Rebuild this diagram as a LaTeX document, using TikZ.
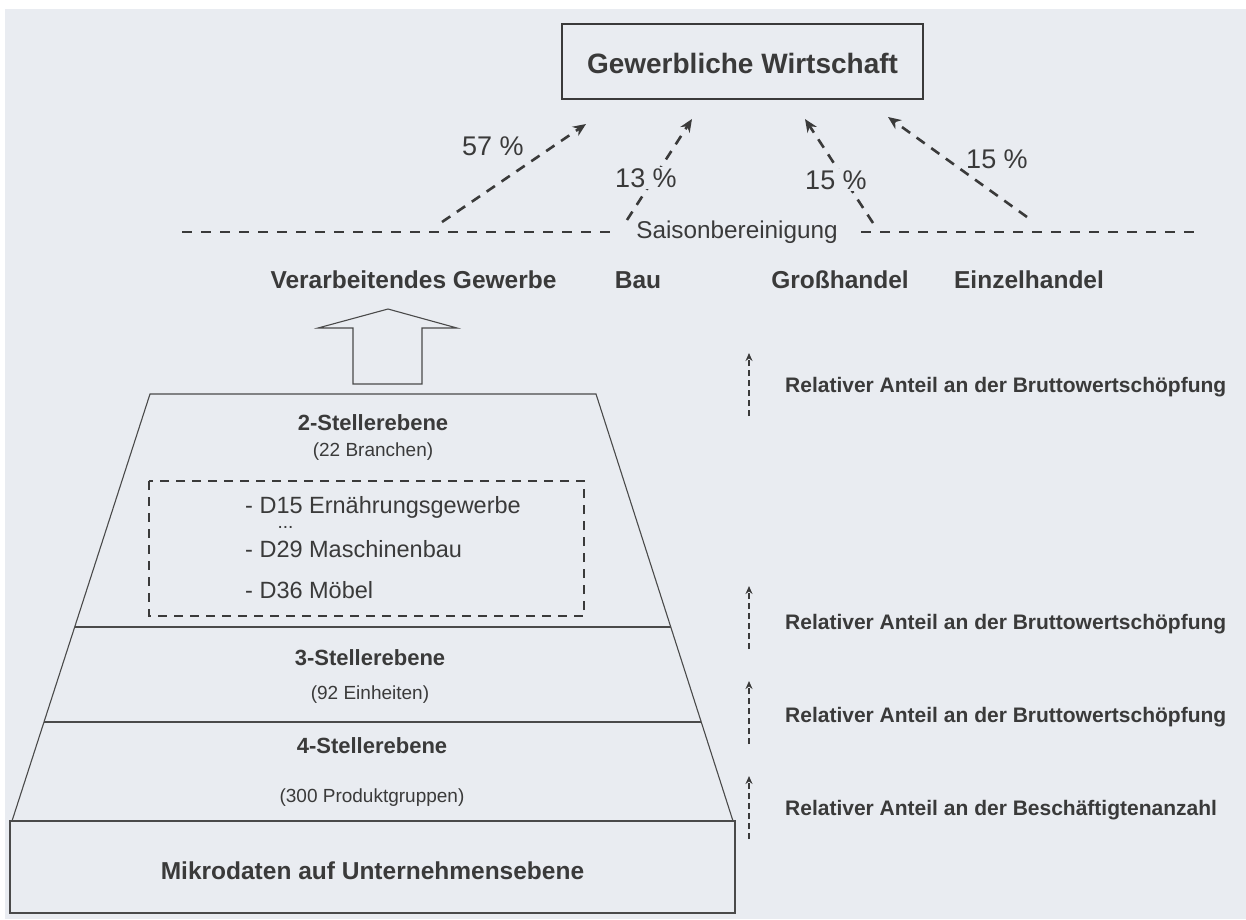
\documentclass[tikz,border=0pt]{standalone}
\usepackage{fontspec}
\setmainfont{Liberation Sans}
\usetikzlibrary{arrows.meta}
\definecolor{bg}{HTML}{E9ECF1}
\definecolor{txt}{HTML}{3A3A3A}
\definecolor{ln}{HTML}{4A4A4A}
\tikzset{
  t/.style={inner sep=0pt, text=txt, anchor=base},
  tw/.style={inner sep=0pt, text=txt, anchor=base west},
  titlefont/.style={font=\bfseries\fontsize{28}{32}\selectfont},
  headfont/.style={font=\bfseries\fontsize{24.5}{28}\selectfont},
  lvlfont/.style={font=\bfseries\fontsize{22}{26}\selectfont},
  subfont/.style={font=\fontsize{19}{22}\selectfont},
  itemfont/.style={font=\fontsize{23.5}{27}\selectfont},
  pctfont/.style={font=\fontsize{27}{30}\selectfont},
  saisfont/.style={font=\fontsize{24.3}{28}\selectfont},
  relfont/.style={font=\bfseries\fontsize{21}{24}\selectfont},
  pctarrow/.style={draw=txt, line width=2.6pt, dash pattern=on 10pt off 8pt,
    -{Stealth[length=13pt,width=11pt]}},
  sepline/.style={draw=txt, line width=2.6pt, dash pattern=on 10pt off 9pt},
  relarrow/.style={draw=txt, line width=1.8pt, dash pattern=on 6pt off 4pt,
    -{Stealth[length=8pt,width=7pt]}},
  thinline/.style={draw=ln, line width=1.1pt},
  dashbox/.style={draw=txt, line width=1.8pt, dash pattern=on 9pt off 7pt},
}
\begin{document}
\begin{tikzpicture}[x=1pt,y=-1pt]
\useasboundingbox (0,0) rectangle (1246,919);
\fill[white] (0,0) rectangle (1246,919);
\fill[bg] (5,9) rectangle (1246,919);

% title box
\node[draw=txt, line width=2pt, minimum width=361pt, minimum height=75pt, inner sep=0pt] (titlebox) at (742.5,61.5) {};
\node[t, titlefont] (title) at (742.5,73) {Gewerbliche Wirtschaft};

% separator line (Saisonbereinigung)
\coordinate (sepL1) at (182,232);
\coordinate (sepL2) at (615,232);
\coordinate (sepR1) at (861,232);
\coordinate (sepR2) at (1196,232);
\draw[sepline] (sepL1) -- (sepL2);
\draw[sepline] (sepR1) -- (sepR2);
\node[t, saisfont] (sais) at (737,238) {Saisonbereinigung};

% percentage arrows
\coordinate (a1s) at (442,222); \coordinate (a1e) at (586,124);
\coordinate (a2s) at (627,220); \coordinate (a2e) at (692,119);
\coordinate (a3s) at (873,223); \coordinate (a3e) at (805,119);
\coordinate (a4s) at (1027,217); \coordinate (a4e) at (888,117);
\draw[pctarrow] (a1s) -- (a1e);
\draw[pctarrow] (a2s) -- (a2e);
\draw[pctarrow] (a3s) -- (a3e);
\draw[pctarrow] (a4s) -- (a4e);
\node[t, pctfont] (p1) at (493,155) {57 \%};
\node[t, pctfont, fill=bg, inner sep=1.5pt] (p2) at (646,187) {13 \%};
\node[t, pctfont, fill=bg, inner sep=1.5pt] (p3) at (836,189) {15 \%};
\node[t, pctfont] (p4) at (997,168) {15 \%};

% sector headings
\node[t, headfont] (verarb) at (413.5,288) {Verarbeitendes Gewerbe};
\node[t, headfont] (bau) at (638,288) {Bau};
\node[t, headfont] (gross) at (840,288) {Großhandel};
\node[t, headfont] (einzel) at (1029,288) {Einzelhandel};

% hollow arrow
\draw[thinline] (353,384) -- (353,328) -- (318,328) -- (388,309) -- (457,328) -- (422,328) -- (422,384) -- cycle;

% pyramid
\coordinate (tl) at (150,394);
\coordinate (tr) at (596,394);
\coordinate (bl) at (12,821);
\coordinate (br) at (733,821);
\coordinate (m1l) at (74.7,627); \coordinate (m1r) at (670.8,627);
\coordinate (m2l) at (44,722); \coordinate (m2r) at (701.2,722);
\draw[thinline] (bl) -- (tl) -- (tr) -- (br);
\draw[thinline] (m1l) -- (m1r);
\draw[thinline] (m2l) -- (m2r);

\node[t, lvlfont] (l2) at (373,430) {2-Stellerebene};
\node[t, subfont] (l2s) at (373,456) {(22 Branchen)};
\draw[dashbox] (149,481) rectangle (584,616);
\node[tw, itemfont] (d15) at (245,513) {- D15 Ernährungsgewerbe};
\node[t, font=\fontsize{19}{22}\selectfont] (dots) at (285.5,528) {...};
\node[tw, itemfont] (d29) at (245,557) {- D29 Maschinenbau};
\node[tw, itemfont] (d36) at (245,598) {- D36 Möbel};

\node[t, lvlfont] (l3) at (370,665) {3-Stellerebene};
\node[t, subfont] (l3s) at (370,699) {(92 Einheiten)};
\node[t, lvlfont] (l4) at (372,753) {4-Stellerebene};
\node[t, subfont] (l4s) at (372,802) {(300 Produktgruppen)};

% micro data box
\node[thinline, draw, minimum width=725pt, minimum height=92pt, inner sep=0pt] (microbox) at (372.5,867) {};
\node[t, headfont] (micro) at (372.5,879) {Mikrodaten auf Unternehmensebene};

% right-side arrows
\coordinate (r1s) at (749,416); \coordinate (r1e) at (749,353);
\coordinate (r2s) at (749,649); \coordinate (r2e) at (749,586);
\coordinate (r3s) at (749,744); \coordinate (r3e) at (749,681);
\coordinate (r4s) at (749,839); \coordinate (r4e) at (749,776);
\draw[relarrow] (r1s) -- (r1e);
\draw[relarrow] (r2s) -- (r2e);
\draw[relarrow] (r3s) -- (r3e);
\draw[relarrow] (r4s) -- (r4e);
\node[tw, relfont] (rl1) at (785,392) {Relativer Anteil an der Bruttowertschöpfung};
\node[tw, relfont] (rl2) at (785,629) {Relativer Anteil an der Bruttowertschöpfung};
\node[tw, relfont] (rl3) at (785,722) {Relativer Anteil an der Bruttowertschöpfung};
\node[tw, relfont] (rl4) at (785,815) {Relativer Anteil an der Beschäftigtenanzahl};
\end{tikzpicture}
\end{document}
